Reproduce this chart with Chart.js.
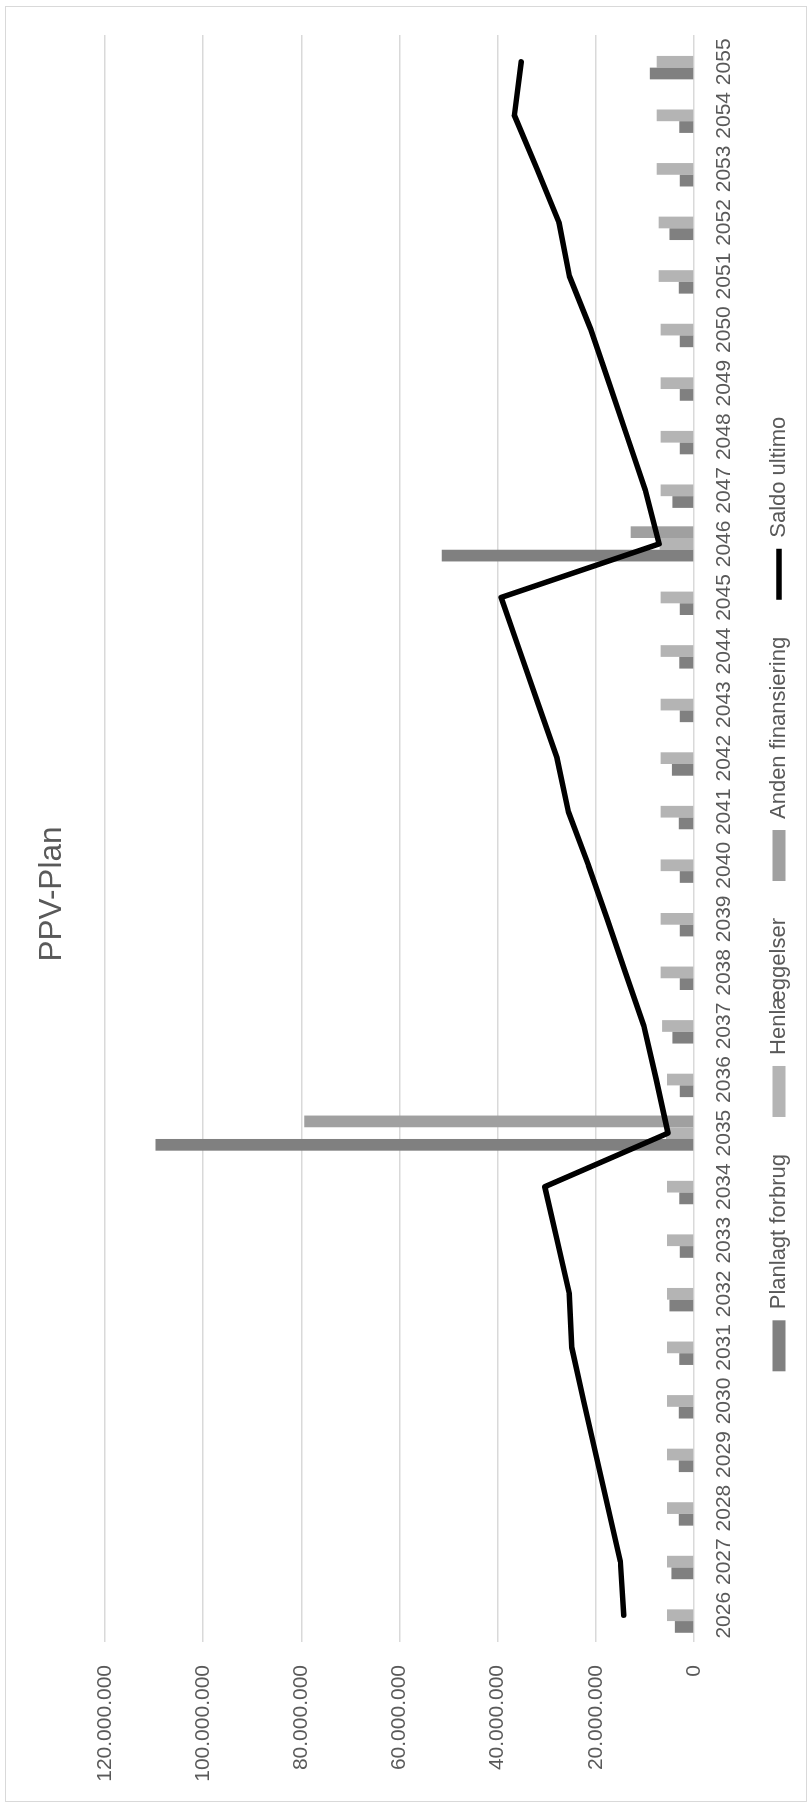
<!DOCTYPE html>
<html lang="da">
<head>
<meta charset="utf-8">
<title>PPV-Plan</title>
<script src="https://cdn.jsdelivr.net/npm/chart.js@4.4.1/dist/chart.umd.min.js"></script>
<style>
  html, body { margin: 0; padding: 0; background: #fff; overflow: hidden; }
  #page { position: relative; width: 812px; height: 1809px; overflow: hidden; }
  /* diagrammet tegnes liggende og drejes 90 grader mod uret */
  #rot { position: absolute; left: 0; top: 0; width: 1809px; height: 812px;
         transform-origin: 0 0; transform: translate(0, 1809px) rotate(-90deg); }
  #frame { position: absolute; left: 7px; top: 5px; width: 1796px; height: 802px;
           border: 1.5px solid #d9d9d9; box-sizing: border-box; }
  #chart { position: absolute; left: 0; top: 0; }
</style>
</head>
<body>
<div id="page">
  <div id="rot">
    <div id="frame"></div>
    <canvas id="chart" width="1809" height="812"></canvas>
  </div>
</div>
<script>
// === Data (mio. kr.) ===
const years = ['2026','2027','2028','2029','2030','2031','2032','2033','2034','2035',
               '2036','2037','2038','2039','2040','2041','2042','2043','2044','2045',
               '2046','2047','2048','2049','2050','2051','2052','2053','2054','2055'];

const planlagtForbrug = [3.9, 4.6, 3.1, 3.1, 3.1, 3.0, 5.0, 2.9, 3.0, 109.7,
                         2.9, 4.4, 2.9, 2.9, 2.9, 3.1, 4.5, 2.9, 3.0, 2.9,
                         51.4, 4.4, 2.9, 2.9, 2.9, 3.1, 5.0, 2.9, 3.0, 9.0];

const henlaeggelser = [5.5, 5.5, 5.5, 5.5, 5.5, 5.5, 5.5, 5.5, 5.5, 5.7,
                       5.5, 6.5, 6.8, 6.8, 6.8, 6.8, 6.8, 6.8, 6.8, 6.8,
                       7.0, 6.8, 6.8, 6.8, 6.8, 7.2, 7.2, 7.6, 7.6, 7.6];

const andenFinansiering = [0, 0, 0, 0, 0, 0, 0, 0, 0, 79.4,
                           0, 0, 0, 0, 0, 0, 0, 0, 0, 0,
                           12.9, 0, 0, 0, 0, 0, 0, 0, 0, 0];

const saldoUltimo = [14.3, 15.0, 17.5, 20.0, 22.5, 24.9, 25.4, 27.9, 30.4, 5.3,
                     7.7, 10.2, 14.0, 17.7, 21.5, 25.6, 27.9, 31.7, 35.5, 39.3,
                     7.1, 9.9, 13.6, 17.3, 21.0, 25.4, 27.5, 32.0, 36.6, 35.2];

const tickLabels = ['0', '20.000.000', '40.000.000', '60.000.000',
                    '80.000.000', '100.000.000', '120.000.000'];

const legendOrder = ['Planlagt forbrug', 'Henlæggelser', 'Anden finansiering', 'Saldo ultimo'];

// === Opsætning ===
Chart.defaults.font.family = "'Liberation Sans', Arial, sans-serif";
Chart.defaults.color = '#595959';

const baseLabels = Chart.defaults.plugins.legend.labels.generateLabels;

new Chart(document.getElementById('chart'), {
  data: {
    labels: years,
    datasets: [
      { type: 'bar', label: 'Planlagt forbrug', data: planlagtForbrug, backgroundColor: '#808080' },
      { type: 'bar', label: 'Henlæggelser', data: henlaeggelser, backgroundColor: '#b4b4b4' },
      { type: 'bar', label: 'Anden finansiering', data: andenFinansiering, backgroundColor: '#a0a0a0' },
      { type: 'line', label: 'Saldo ultimo', data: saldoUltimo, order: -1,
        borderColor: '#000', backgroundColor: '#000', borderWidth: 5.5,
        pointRadius: 0, tension: 0, fill: false,
        borderJoinStyle: 'round', borderCapStyle: 'round' }
    ]
  },
  options: {
    responsive: false,
    animation: false,
    layout: { padding: { left: 56, right: 35, top: 0, bottom: 12 } },
    datasets: {
      bar: { categoryPercentage: 0.656, barPercentage: 1.0, borderWidth: 0 }
    },
    plugins: {
      title: {
        display: true,
        text: 'PPV-Plan',
        color: '#595959',
        font: { size: 31.5, weight: 'normal' },
        padding: { top: 33, bottom: 34.2 }
      },
      legend: {
        position: 'bottom',
        labels: {
          usePointStyle: true,
          pointStyleWidth: 51,
          boxHeight: 13,
          padding: 37,
          color: '#595959',
          font: { size: 22 },
          sort: (a, b) => legendOrder.indexOf(a.text) - legendOrder.indexOf(b.text),
          generateLabels: chart => baseLabels(chart).map(item => {
            const ds = chart.data.datasets[item.datasetIndex];
            if (ds.type === 'line') {
              item.pointStyle = 'line';
              item.strokeStyle = '#000';
              item.lineWidth = 5.5;
            } else {
              item.pointStyle = 'rect';
              item.lineWidth = 0;
            }
            return item;
          })
        }
      },
      tooltip: { enabled: false }
    },
    scales: {
      x: {
        grid: { display: false, drawTicks: false },
        border: { display: false },
        ticks: { autoSkip: false, maxRotation: 0, minRotation: 0, padding: 18,
                 color: '#595959', font: { size: 21 } },
        afterFit: axis => { axis.height = 37; }
      },
      y: {
        min: 0,
        max: 120,
        grid: { color: '#d9d9d9', lineWidth: 1.5, drawTicks: false },
        border: { display: false },
        ticks: { stepSize: 20, padding: 23, color: '#595959', font: { size: 21 },
                 callback: (v, i) => tickLabels[i] },
        afterFit: axis => {
          axis.width = 111;
          // de lange etiketter må gerne gå ud over aksens egen boks
          axis._computeLabelArea = () => undefined;
        }
      }
    }
  }
});
</script>
</body>
</html>
